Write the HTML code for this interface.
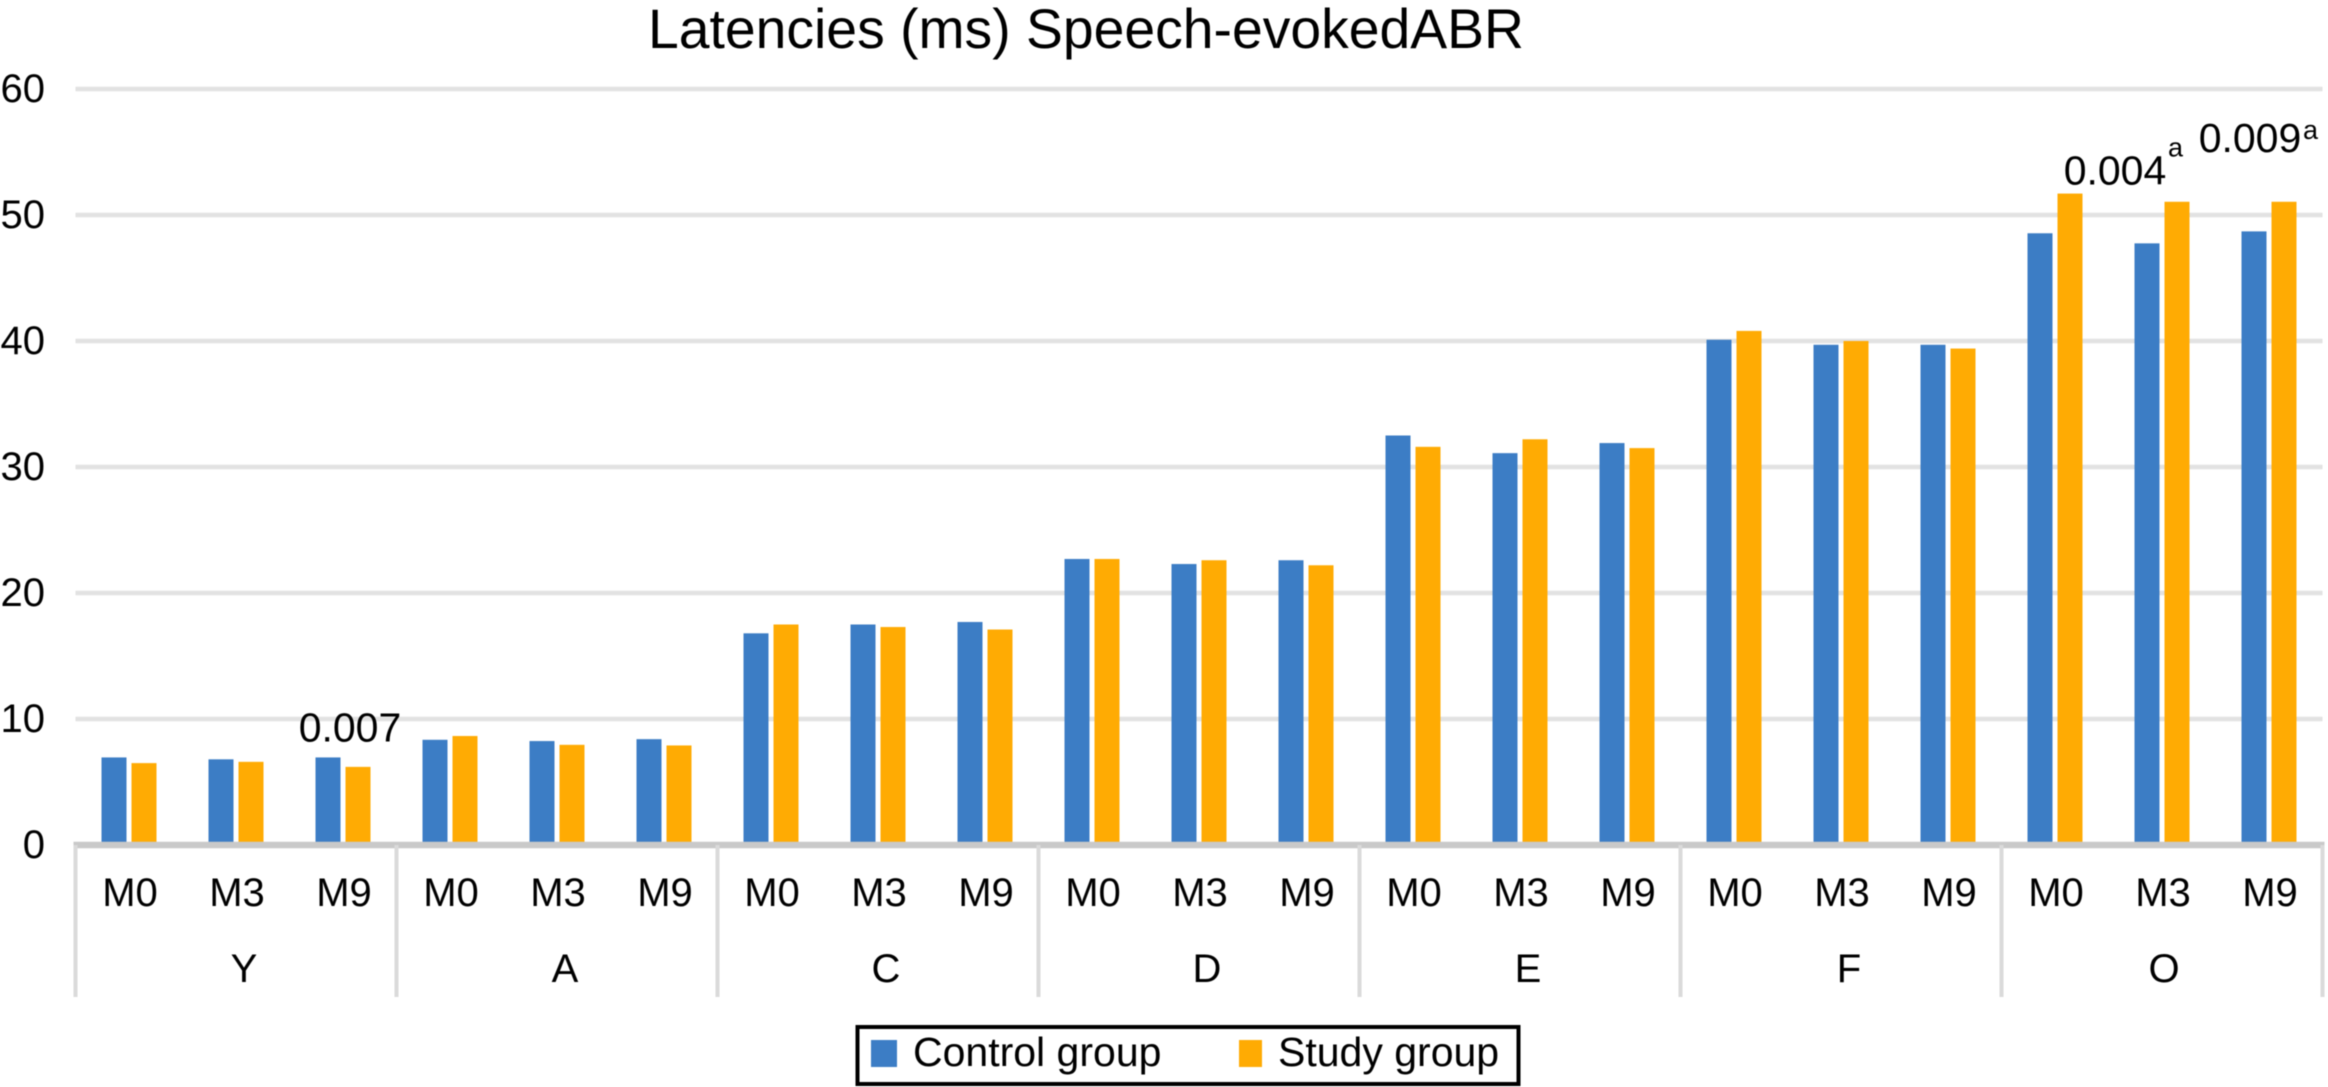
<!DOCTYPE html>
<html lang="en">
<head>
<meta charset="utf-8">
<title>Latencies (ms) Speech-evokedABR</title>
<style>
html,body{margin:0;padding:0;background:#fff;width:2328px;height:1087px;overflow:hidden}
svg{display:block;filter:blur(.55px)}
text{font-family:"Liberation Sans",sans-serif;fill:#000}
</style>
</head>
<body>
<svg id="chart" xmlns="http://www.w3.org/2000/svg" width="2328" height="1087" viewBox="0 0 2328 1087">
  <rect x="0" y="0" width="2328" height="1087" fill="#ffffff"/>
  <text x="648" y="48" font-size="55.3">Latencies (ms) Speech-evokedABR</text>
  <g id="grid"></g>
  <g id="bars"></g>
  <g id="axis"></g>
  <g id="labels"></g>
  <g id="notes"></g>
  <g>
    <rect x="857.5" y="1027" width="661" height="57" fill="#fff" stroke="#000" stroke-width="4"/>
    <rect x="871" y="1040" width="26" height="27" fill="#3c7dc5"/>
    <text x="913" y="1066" font-size="41">Control group</text>
    <rect x="1239" y="1040" width="23" height="27" fill="#ffab03"/>
    <text x="1278" y="1066" font-size="41">Study group</text>
  </g>
</svg>
<script>
const groups = ['Y', 'A', 'C', 'D', 'E', 'F', 'O'];
const visits = ['M0', 'M3', 'M9'];
const controlValues = [6.95, 6.8, 6.95, 8.35, 8.25, 8.4, 16.8, 17.5, 17.7, 22.7, 22.3, 22.6, 32.5, 31.1, 31.9, 40.1, 39.7, 39.7, 48.55, 47.75, 48.7];
const studyValues = [6.5, 6.6, 6.2, 8.65, 7.95, 7.9, 17.5, 17.3, 17.1, 22.7, 22.6, 22.2, 31.6, 32.2, 31.5, 40.8, 40, 39.4, 51.7, 51.05, 51.05];
const yTicks = [0, 10, 20, 30, 40, 50, 60];

const SVGNS = 'http://www.w3.org/2000/svg';
const plotLeft = 75.5, plotRight = 2322.5, baseY = 845, unitPx = 12.6;
const categoryWidth = (plotRight - plotLeft) / (groups.length * visits.length);
const barWidth = 25, barGap = 5;

function yScale(v) { return baseY - v * unitPx; }
function xCenter(i) { return plotLeft + categoryWidth * (i + 0.5); }
function make(parentId, tag, attrs, content) {
  const el = document.createElementNS(SVGNS, tag);
  for (const k in attrs) el.setAttribute(k, attrs[k]);
  if (content !== undefined) el.textContent = content;
  document.getElementById(parentId).appendChild(el);
  return el;
}

yTicks.forEach(function (t) {
  if (t !== 0) {
    const line = make('grid', 'line', { x1: plotLeft, x2: plotRight, y1: yScale(t), y2: yScale(t), stroke: '#e2e2e2', 'stroke-width': 4.5 });
    
    
  }
  const tick = make('labels', 'text', { x: 45, y: yScale(t) + 13, 'font-size': 40, 'text-anchor': 'end' }, String(t));
  
  
});

controlValues.forEach(function (v, i) {
  const bar = make('bars', 'rect', { x: xCenter(i) - barGap / 2 - barWidth, y: yScale(v), width: barWidth, height: baseY - yScale(v), fill: '#3c7dc5' });
  
  
});
studyValues.forEach(function (v, i) {
  const bar = make('bars', 'rect', { x: xCenter(i) + barGap / 2, y: yScale(v), width: barWidth, height: baseY - yScale(v), fill: '#ffab03' });
  
  
});

const axisLine = make('axis', 'line', { x1: plotLeft - 2, x2: plotRight + 2, y1: baseY, y2: baseY, stroke: '#c9c9c9', 'stroke-width': 6.5 });



for (let g = 0; g <= groups.length; g++) {
  const sx = plotLeft + g * visits.length * categoryWidth;
  const sep = make('axis', 'line', { x1: sx, x2: sx, y1: baseY, y2: 997, stroke: '#dadada', 'stroke-width': 4 });
  
  
}

groups.forEach(function (name, g) {
  visits.forEach(function (visit, k) {
    const label = make('labels', 'text', { x: xCenter(g * visits.length + k) + 1, y: 906, 'font-size': 40, 'text-anchor': 'middle' }, visit);
    
    
  });
  // The source's group labels sit slightly right of centre, except the last one.
  const labelShift = g === groups.length - 1 ? 2 : 8;
  const groupLabel = make('labels', 'text', { x: xCenter(g * visits.length + 1) + labelShift, y: 982, 'font-size': 40, 'text-anchor': 'middle' }, name);
  
  
});

function annotate(i, top, text, sup, dx, dy) {
  const x = xCenter(i) + dx;
  const y = yScale(top) - dy;
  const note = make('notes', 'text', { x: x, y: y, 'font-size': 41, 'text-anchor': 'middle' }, text);
  
  
  if (sup) {
    const mark = make('notes', 'text', { x: x + 53, y: y - sup, 'font-size': 27 }, 'a');
    
    
  }
}
annotate(2, controlValues[2], '0.007', 0, 7, 16);
annotate(18, studyValues[18], '0.004', 28, 60, 9);
annotate(20, studyValues[20], '0.009', 13, -19, 50);
</script>
</body>
</html>
